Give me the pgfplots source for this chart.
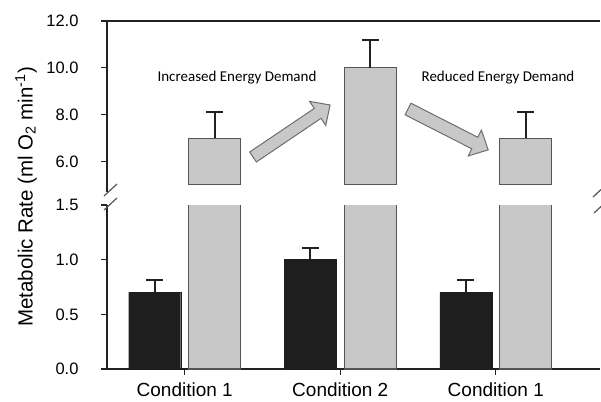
\documentclass[border=0pt]{standalone}
\usepackage{fontspec}
\setmainfont{Liberation Sans}
\newfontfamily\calibri{Carlito}
\usepackage{pgfplots}
\pgfplotsset{compat=1.18}
\definecolor{barblack}{HTML}{1E1E1E}
\definecolor{bargrey}{HTML}{C8C8C8}
\definecolor{edgegrey}{HTML}{555555}
\definecolor{axisdark}{HTML}{222222}
\definecolor{arrowedge}{HTML}{6E6E6E}
\begin{document}
\begin{tikzpicture}
\pgfplotsset{
  common/.style={
    scale only axis, width=493pt, height=164pt,
    xmin=-0.5, xmax=2.67,
    axis line style={axisdark, line width=1.8pt},
    tick style={axisdark, line width=1.2pt},
    tick align=outside, major tick length=6pt,
    /pgf/number format/fixed, /pgf/number format/fixed zerofill,
    /pgf/number format/precision=1, /pgf/number format/assume math mode=true,
    tick label style={font=\fontsize{16.5}{18}\selectfont},
    yticklabel style={xshift=-19pt},
  },
  ebar/.style={error bars/.cd, y dir=plus, y explicit,
    error bar style={axisdark, line width=2pt},
    error mark options={rotate=90, mark size=8.5pt, line width=2pt, axisdark}},
}
\begin{axis}[common, ymin=0, ymax=1.5, ytick={0,0.5,1,1.5},
  axis x line*=bottom, axis y line*=left,
  xtick={0,1,2}, xticklabels={Condition 1,Condition 2,Condition 1},
  x tick label style={font=\fontsize{19}{21}\selectfont, yshift=-4pt},
]
\addplot[ybar, bar width=52pt, bar shift=0pt, fill=barblack, draw=barblack, ebar]
 coordinates {(-0.193,0.7) +- (0,0.11) (0.807,1.0) +- (0,0.11) (1.807,0.7) +- (0,0.11)};
\addplot[ybar, bar width=52pt, bar shift=0pt, fill=bargrey, draw=edgegrey, line width=1.1pt]
 coordinates {(0.193,7) (1.193,10) (2.193,7)};
\end{axis}
\begin{axis}[common, at={(0pt,184pt)}, ymin=5, ymax=12, ytick={6,8,10,12},
  axis x line*=top, axis y line*=left, xtick=\empty]
\addplot[ybar, bar width=52pt, bar shift=0pt, fill=bargrey, draw=edgegrey, line width=1.1pt, ebar]
 coordinates {(0.193,7) +- (0,1.1) (1.193,10) +- (0,1.2) (2.193,7) +- (0,1.1)};
\end{axis}
% axis break marks
\draw[axisdark, line width=1.8pt] (0,184pt) -- (0,177pt);
\draw[edgegrey, line width=1.2pt] (-3pt,173pt) -- (10pt,185pt);
\draw[edgegrey, line width=1.2pt] (-3pt,159pt) -- (10pt,171pt);
\draw[edgegrey, line width=1.2pt] (486pt,172pt) -- (499pt,184pt);
\draw[edgegrey, line width=1.2pt] (487pt,156pt) -- (500pt,168pt);
% y label
\node[rotate=90, font=\fontsize{20.5}{22}\selectfont] at (-81pt,172pt)
  {Metabolic Rate (ml O\textsubscript{2} min\textsuperscript{-1})};
% annotations
\node[font=\calibri\fontsize{15}{17}\selectfont] at (130pt,291pt) {Increased Energy Demand};
\node[font=\calibri\fontsize{15}{17}\selectfont] at (391pt,291pt) {Reduced Energy Demand};
\begin{scope}[shift={(146pt,212pt)}, rotate=34]
\draw[fill=bargrey, draw=arrowedge, line width=1pt] (0,-6pt) -- (78pt,-6pt) -- (78pt,-14.5pt) -- (93pt,0) -- (78pt,14.5pt) -- (78pt,6pt) -- (0,6pt) -- cycle;
\end{scope}
\begin{scope}[shift={(301pt,260pt)}, rotate=-27]
\draw[fill=bargrey, draw=arrowedge, line width=1pt] (0,-6.5pt) -- (75pt,-6.5pt) -- (75pt,-14.5pt) -- (90pt,0) -- (75pt,14.5pt) -- (75pt,6.5pt) -- (0,6.5pt) -- cycle;
\end{scope}
\pgfresetboundingbox
\path[use as bounding box] (-107pt,-32pt) rectangle (494pt,369pt);
\end{tikzpicture}
\end{document}
